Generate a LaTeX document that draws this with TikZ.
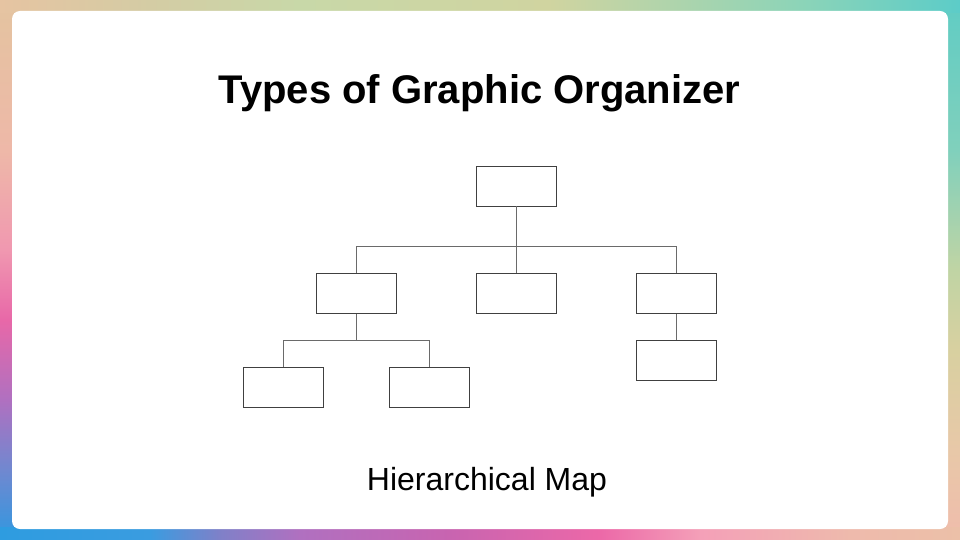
\documentclass[tikz,border=0pt]{standalone}
\usepackage{fontspec}
\setmainfont{Liberation Sans}
\usepackage{tikz}
\usetikzlibrary{positioning}
\usepackage{xcolor}

\definecolor{boxline}{HTML}{404040}
\definecolor{linkline}{HTML}{6A6A6A}

\definecolor{tA}{HTML}{E6C4A2}
\definecolor{tB}{HTML}{D4CCA4}
\definecolor{tC}{HTML}{C8D8A8}
\definecolor{tD}{HTML}{D0D4A0}
\definecolor{tE}{HTML}{8CD4B8}
\definecolor{tF}{HTML}{5CCCC8}

\definecolor{bA}{HTML}{2E9CE0}
\definecolor{bB}{HTML}{3A9CE0}
\definecolor{bC}{HTML}{8080C8}
\definecolor{bD}{HTML}{B070C0}
\definecolor{bE}{HTML}{C864B0}
\definecolor{bF}{HTML}{EC68A8}
\definecolor{bG}{HTML}{F4A0B8}
\definecolor{bH}{HTML}{EEBAAC}
\definecolor{bI}{HTML}{ECC0A8}

\definecolor{lA}{HTML}{3098E0}
\definecolor{lB}{HTML}{7088D0}
\definecolor{lC}{HTML}{B070C0}
\definecolor{lD}{HTML}{E868A8}
\definecolor{lE}{HTML}{F098B0}
\definecolor{lF}{HTML}{EEB8A8}
\definecolor{lG}{HTML}{E4C4A0}

\definecolor{rA}{HTML}{F0BCAC}
\definecolor{rB}{HTML}{E8C8A8}
\definecolor{rC}{HTML}{D8D0A0}
\definecolor{rD}{HTML}{C0D4A4}
\definecolor{rE}{HTML}{80D0BC}
\definecolor{rF}{HTML}{60CCC4}

\pgfdeclarehorizontalshading{topband}{100bp}{color(0bp)=(tA); color(25bp)=(tA);
  color(32.8bp)=(tB); color(40.6bp)=(tC); color(53.6bp)=(tD); color(66.7bp)=(tE);
  color(75bp)=(tF); color(100bp)=(tF)}
\pgfdeclarehorizontalshading{bottomband}{100bp}{color(0bp)=(bA); color(25bp)=(bA);
  color(32.8bp)=(bB); color(36.5bp)=(bC); color(40.6bp)=(bD); color(48.4bp)=(bE);
  color(56.2bp)=(bF); color(61.5bp)=(bG); color(69.3bp)=(bH); color(75bp)=(bI);
  color(100bp)=(bI)}
\pgfdeclareverticalshading{leftband}{100bp}{color(0bp)=(lA); color(25bp)=(lA);
  color(31.5bp)=(lB); color(38bp)=(lC); color(45.4bp)=(lD); color(51.9bp)=(lE);
  color(61bp)=(lF); color(75bp)=(lG); color(100bp)=(lG)}
\pgfdeclareverticalshading{rightband}{100bp}{color(0bp)=(rA); color(25bp)=(rA);
  color(33.3bp)=(rB); color(42.6bp)=(rC); color(50bp)=(rD); color(61.1bp)=(rE);
  color(75bp)=(rF); color(100bp)=(rF)}

\begin{document}
\begin{tikzpicture}[x=1pt, y=-1pt]

\tikzstyle{block} = [
    rectangle,
    draw=boxline,
    line width=0.9pt,
    minimum width=80pt,
    minimum height=40pt,
    inner sep=0pt
];
\tikzstyle{link} = [draw=linkline, line width=0.9pt];

% frame
\useasboundingbox (0,0) rectangle (960,540);
\shade[shading=leftband] (0,0) rectangle (14,540);
\shade[shading=rightband] (946,0) rectangle (960,540);
\shade[shading=topband] (0,0) rectangle (960,13);
\shade[shading=bottomband] (0,527) rectangle (960,540);
\fill[white, rounded corners=8pt] (12,11) rectangle (948,529);

\node[anchor=base, font=\fontsize{40}{48}\selectfont\bfseries] (title) at (479.5,104) {Types of Graphic Organizer};

\node[block] (root) at (516.7,186) {};
\node[block, below=66.7pt of root] (mid) {};
\node[block, left=79pt of mid] (left) {};
\node[block, right=79pt of mid] (right) {};
\node[block, below=53pt of left, xshift=-73pt] (leftA) {};
\node[block, below=53pt of left, xshift=73pt] (leftB) {};
\node[block, below=26.3pt of right] (rightA) {};

\coordinate (bar1) at ([yshift=-40pt]root.south);
\coordinate (bar2) at ([yshift=-26.3pt]left.south);

\draw[link] (root) -- (mid);
\draw[link] (bar1) -| (left);
\draw[link] (bar1) -| (right);
\draw[link] (left) -- (bar2);
\draw[link] (bar2) -| (leftA);
\draw[link] (bar2) -| (leftB);
\draw[link] (right) -- (rightA);

\node[anchor=base, font=\fontsize{32}{38}\selectfont] (caption) at (487,490) {Hierarchical Map};

\end{tikzpicture}
\end{document}
